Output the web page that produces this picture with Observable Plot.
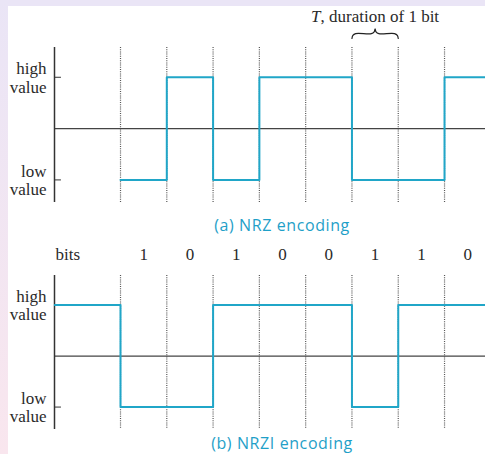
<!DOCTYPE html>
<html><head><meta charset="utf-8">
<script src="https://cdn.jsdelivr.net/npm/d3@7"></script>
<script src="https://cdn.jsdelivr.net/npm/@observablehq/plot@0.6"></script>
<style>
body{margin:0;background:#fff;}
#wrap{position:relative;width:485px;height:454px;overflow:hidden;background:#fff;}
.panel{position:absolute;left:0;}
.cap{position:absolute;left:172px;width:220px;text-align:center;font-family:"Open Sans",sans-serif;font-size:16px;letter-spacing:0.6px;color:#1fa0c8;white-space:nowrap;line-height:18px;}
#topstrip{position:absolute;left:0;top:0;width:485px;height:6px;background:#eae5f6;}
#leftstrip{position:absolute;left:0;top:0;width:8px;height:454px;background:linear-gradient(#eae5f6,#f9e6ee);}
</style></head>
<body><div id="wrap">
<div id="p1" class="panel" style="top:0"></div>
<div id="cap1" class="cap" style="top:216px"></div>
<div id="p2" class="panel" style="top:232px"></div>
<div id="cap2" class="cap" style="top:434px"></div>
<div id="topstrip"></div><div id="leftstrip"></div>
</div>
<script>
// ---- data ----
const bits = [1, 0, 1, 0, 0, 1, 1, 0];
const nrzLevels = [-1, 1, -1, 1, 1, -1, -1, 1];      // level during each bit
const nrziStartLevel = 1;                            // level before first bit
const nrziLevels = [-1, -1, 1, 1, 1, -1, 1, 1];      // level during each bit
const levelTicks = [1, -1];
const levelLabels = ["high\nvalue", "low\nvalue"];
const captions = ["(a) NRZ encoding", "(b) NRZI encoding"];
const durationLabel = "T, duration of 1 bit";
const durationBit = 5;   // bit interval annotated by the brace
const bitsLabel = "bits";

// ---- scales ----
const xDomain = [-1.426, 7.885];
const yDomain = [-1.44, 1.58];
const labelRow = 2.0;     // bits row (above panel b)
const titleRow = 2.18;    // T label row (above panel a)
const tickLen = 0.15;

const teal = "#20a6c8";
const ink = "#2a2a2a";
const labelOf = new Map(levelTicks.map((d, i) => [d, levelLabels[i]]));
const boundaries = bits.map((b, i) => i);
const serif = "Liberation Serif, Times New Roman, serif";

function signalPoints(levels, startLevel) {
  const pts = [];
  if (startLevel !== undefined) pts.push({t: xDomain[0], v: startLevel});
  levels.forEach((v, i) => pts.push({t: i, v}));
  pts.push({t: levels.length, v: levels[levels.length - 1]});
  return pts;
}

function baseMarks(points) {
  return [
    Plot.ruleX(boundaries, {stroke: "#555", strokeWidth: 1.2, strokeDasharray: "1,1.2"}),
    Plot.ruleY([0], {stroke: "#444", strokeWidth: 1.3}),
    Plot.ruleX([xDomain[0]], {stroke: "#333", strokeWidth: 1.5}),
    Plot.ruleY(levelTicks, {x1: xDomain[0], x2: xDomain[0] + tickLen, stroke: "#333", strokeWidth: 1}),
    Plot.axisY(levelTicks, {tickSize: 0, tickPadding: 8, tickFormat: d => labelOf.get(d), label: null,
      fontSize: 17, fontFamily: serif, lineHeight: 1.1, fill: ink}),
    Plot.line(points, {x: "t", y: "v", curve: "step-after", stroke: teal, strokeWidth: 2, clip: true})
  ];
}

// brace shape over one bit interval (relative x in [0,1], y offsets)
const braceShape = [
  [0, 0], [0.02, 0.06], [0.08, 0.095], [0.42, 0.095], [0.48, 0.13], [0.5, 0.19],
  [0.52, 0.13], [0.58, 0.095], [0.92, 0.095], [0.98, 0.06], [1, 0]
];
const braceBase = 1.755;

const plot1 = Plot.plot({
  width: 485, height: 212,
  marginLeft: 54, marginRight: 0, marginTop: 47, marginBottom: 10,
  x: {domain: xDomain, axis: null},
  y: {domain: yDomain, axis: null},
  style: {background: "transparent", overflow: "visible"},
  marks: [
    ...baseMarks(signalPoints(nrzLevels)),
    Plot.line(braceShape, {x: d => durationBit + d[0], y: d => braceBase + d[1], stroke: "#222", strokeWidth: 1.2, curve: "catmull-rom"}),
    Plot.text([durationLabel], {x: durationBit + 0.5, y: titleRow, text: d => d, fontSize: 17, fontFamily: serif, fill: ink})
  ]
});

const plot2 = Plot.plot({
  width: 485, height: 205,
  marginLeft: 54, marginRight: 0, marginTop: 43, marginBottom: 8,
  x: {domain: xDomain, axis: null},
  y: {domain: yDomain, axis: null},
  style: {background: "transparent", overflow: "visible"},
  marks: [
    ...baseMarks(signalPoints(nrziLevels, nrziStartLevel)),
    Plot.text(bits, {x: (d, i) => i + 0.5, y: labelRow, text: d => String(d), fontSize: 17, fontFamily: serif, fill: ink}),
    Plot.text([bitsLabel], {x: xDomain[0], y: labelRow, text: d => d, textAnchor: "start", dx: 1, fontSize: 17, fontFamily: serif, fill: ink})
  ]
});

document.getElementById("p1").appendChild(plot1);
document.getElementById("p2").appendChild(plot2);
document.getElementById("cap1").textContent = captions[0];
document.getElementById("cap2").textContent = captions[1];

// italic T in the duration label
d3.select(plot1).selectAll("text").each(function() {
  const el = this;
  if (el.textContent === durationLabel) {
    const rest = durationLabel.slice(1);
    el.textContent = "";
    d3.select(el).append("tspan").attr("font-style", "italic").text(durationLabel[0]);
    d3.select(el).append("tspan").text(rest);
  }
});
</script>
</body></html>
